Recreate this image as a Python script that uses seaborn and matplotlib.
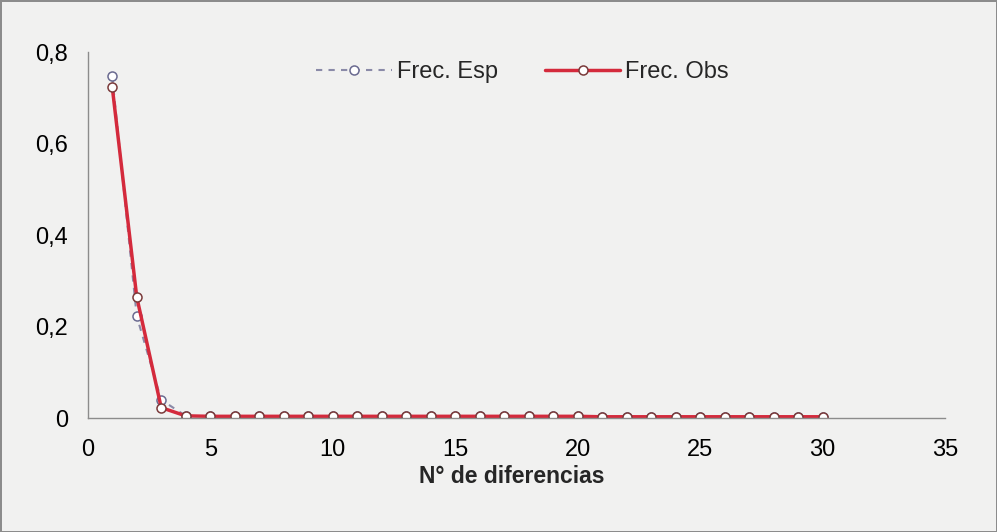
import matplotlib
matplotlib.use('Agg')
import matplotlib.pyplot as plt
import pandas as pd
import seaborn as sns

bg = '#f1f1f0'
sns.set_style('white')
plt.rcParams['font.family'] = ['Liberation Sans', 'DejaVu Sans']

diferencias = list(range(1, 31))
frec_esp = [0.747, 0.223, 0.040] + [0.005, 0.004, 0.004, 0.004, 0.004, 0.004, 0.004, 0.004, 0.004,
                                    0.004, 0.004, 0.004, 0.004, 0.004, 0.004, 0.004, 0.004, 0.003,
                                    0.003, 0.003, 0.003, 0.003, 0.003, 0.003, 0.003, 0.003, 0.003]
frec_obs = [0.724, 0.265, 0.023] + [0.005, 0.004, 0.004, 0.004, 0.004, 0.004, 0.004, 0.004, 0.004,
                                    0.004, 0.004, 0.004, 0.004, 0.004, 0.004, 0.004, 0.004, 0.003,
                                    0.003, 0.003, 0.003, 0.003, 0.003, 0.003, 0.003, 0.003, 0.003]
x_ticks = [0, 5, 10, 15, 20, 25, 30, 35]
y_ticks = [0, 0.2, 0.4, 0.6, 0.8]
y_labels = ['0', '0,2', '0,4', '0,6', '0,8']

df = pd.DataFrame({'x': diferencias, 'esp': frec_esp, 'obs': frec_obs})

fig = plt.figure(figsize=(9.97, 5.32), dpi=100)
fig.patch.set_facecolor(bg)
fig.patch.set_edgecolor('#8c8c8c')
fig.patch.set_linewidth(2)
ax = fig.add_axes([0.088, 0.214, 0.860, 0.688])
ax.set_facecolor(bg)

sns.lineplot(data=df, x='x', y='esp', ax=ax, color='#8a8aa8', lw=1.5,
             linestyle=(0, (3, 3)), marker='o', markersize=6.5,
             markerfacecolor='white', markeredgecolor='#6a6a90', markeredgewidth=1.1,
             label='Frec. Esp')
sns.lineplot(data=df, x='x', y='obs', ax=ax, color='#d42a3c', lw=2.5,
             marker='o', markersize=6.5,
             markerfacecolor='white', markeredgecolor='#7a3a3a', markeredgewidth=1.1,
             label='Frec. Obs')

ax.set_xlim(0, 35)
ax.set_ylim(0, 0.8)
ax.set_xticks(x_ticks)
ax.set_yticks(y_ticks)
ax.set_yticklabels(y_labels)
ax.tick_params(axis='both', labelsize=17, colors='#888888', labelcolor='black')
ax.tick_params(axis='x', direction='out', length=6, width=1, pad=9)
ax.tick_params(axis='y', direction='out', length=4, width=1, pad=10)
for s in ['top', 'right']:
    ax.spines[s].set_visible(False)
for s in ['left', 'bottom']:
    ax.spines[s].set_color('#8c8c8c')
    ax.spines[s].set_linewidth(1)

ax.set_xlabel('N° de diferencias', fontsize=16.5, fontweight='bold')
ax.xaxis.set_label_coords(0.494, -0.128)
ax.set_ylabel('')

fig.legend(handles=ax.get_legend_handles_labels()[0], labels=['Frec. Esp', 'Frec. Obs'],
           loc='center', bbox_to_anchor=(0.524, 0.865), ncol=2, frameon=False,
           fontsize=17, handlelength=3.2, columnspacing=2.0, handletextpad=0.2)
ax.get_legend().remove()

fig.savefig('out.png', dpi=100, facecolor=fig.get_facecolor(), edgecolor=fig.get_edgecolor())
